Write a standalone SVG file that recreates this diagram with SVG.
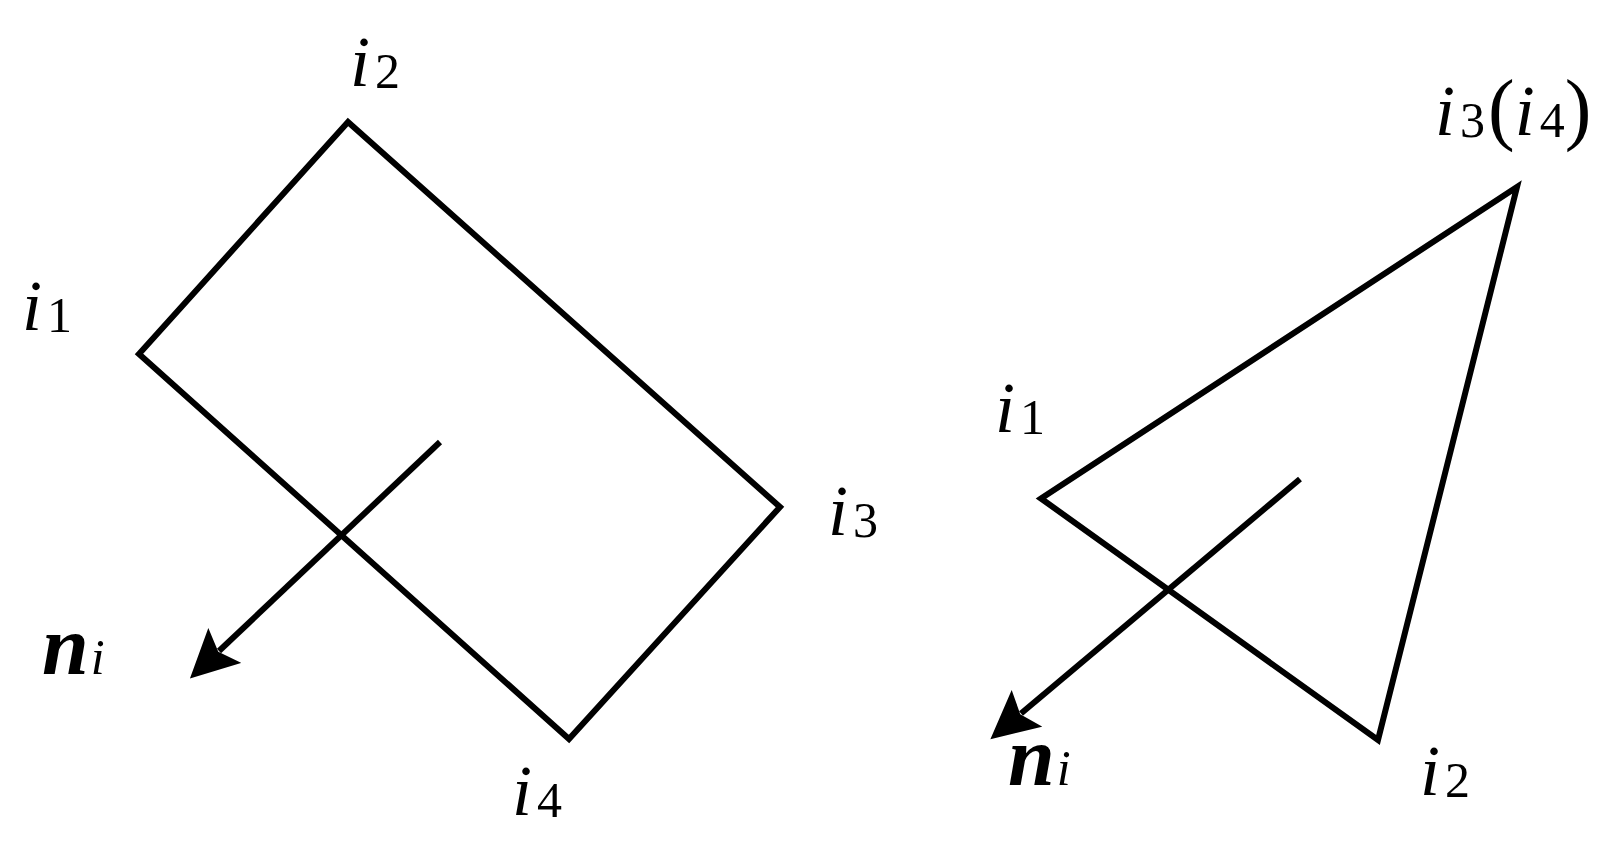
<svg xmlns="http://www.w3.org/2000/svg" width="1605" height="845" viewBox="0 0 1605 845">
<style>
.s{fill:none;stroke:#000;stroke-width:6;stroke-linejoin:miter}
.a{fill:none;stroke:#000;stroke-width:6;marker-end:url(#ah)}
text{font-family:"Liberation Serif","Times New Roman",serif;font-size:72px;fill:#000}
.v{font-style:italic}
.n{font-style:italic;font-weight:bold;font-size:84px}
.b{font-size:50px;font-style:normal}
.c{font-style:italic;font-size:50px;font-weight:normal}
.p{font-style:normal;font-size:80px}
</style>
<defs>
<marker id="ah" markerUnits="userSpaceOnUse" markerWidth="60" markerHeight="54" refX="8" refY="24" orient="auto"><path d="M0 0L48 24L0 48L9 24Z" fill="#000"/></marker>
</defs>
<rect width="1605" height="845" fill="#fff"/>
<g id="connectors">
<line class="a" x1="440" y1="442" x2="219" y2="651"/>
<line class="a" x1="1300" y1="479" x2="1021" y2="713.500"/>
</g>
<g id="rectangle"><path class="s" d="M348 122L139 354L569 739L780 507Z"/></g>
<g id="triangle"><path class="s" d="M1041 498.500L1517 187L1378 740Z"/></g>
<g id="label-left-i1"><text class="v" x="22" y="330">i<tspan class="b" dx="5" dy="2">1</tspan></text></g>
<g id="label-left-i2"><text class="v" x="350" y="86">i<tspan class="b" dx="5" dy="2">2</tspan></text></g>
<g id="label-left-i3"><text class="v" x="828" y="535">i<tspan class="b" dx="5" dy="2">3</tspan></text></g>
<g id="label-left-i4"><text class="v" x="512" y="815">i<tspan class="b" dx="5" dy="2">4</tspan></text></g>
<g id="label-left-n"><text class="n" x="42" y="674">n<tspan class="c" dx="2">i</tspan></text></g>
<g id="label-right-i1"><text class="v" x="995" y="432">i<tspan class="b" dx="5" dy="2">1</tspan></text></g>
<g id="label-right-i2"><text class="v" x="1420" y="795">i<tspan class="b" dx="5" dy="2">2</tspan></text></g>
<g id="label-right-i34"><text class="v" x="1435" y="135">i<tspan class="b" dx="5" dy="2">3</tspan><tspan class="p" dx="3" dy="-2">(</tspan>i<tspan class="b" dx="5" dy="2">4</tspan><tspan class="p" dy="-2">)</tspan></text></g>
<g id="label-right-n"><text class="n" x="1008" y="785">n<tspan class="c" dx="2">i</tspan></text></g>
</svg>
